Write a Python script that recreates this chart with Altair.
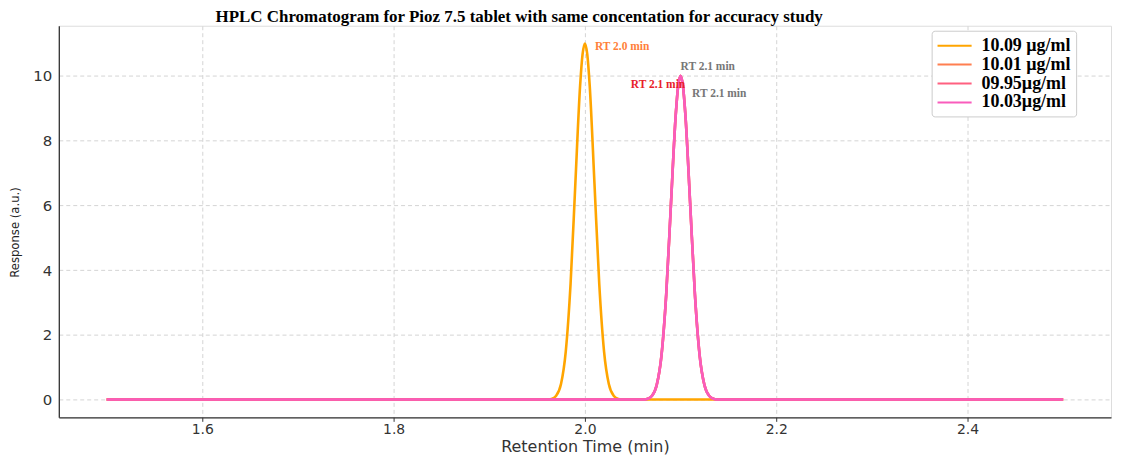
import altair as alt
import pandas as pd

# ---- data ----
series_labels = ["10.09 µg/ml", "10.01 µg/ml", "09.95µg/ml", "10.03µg/ml"]
series_colors = ["#ffa500", "#ff7f50", "#ff6080", "#f95cbc"]

peak1_time = [1.50, 1.955, 1.960, 1.965, 1.970, 1.975, 1.980, 1.985, 1.990, 1.995, 1.9975,
              2.000, 2.0025, 2.005, 2.010, 2.015, 2.020, 2.025, 2.030, 2.035, 2.040, 2.045, 2.50]
peak1_resp = [0.0, 0.0, 0.0, 0.02, 0.12, 0.48, 1.49, 3.57, 6.67, 9.71, 10.66,
              11.0, 10.66, 9.71, 6.67, 3.57, 1.49, 0.48, 0.12, 0.02, 0.0, 0.0, 0.0]

peak2_time = [1.50, 2.055, 2.060, 2.065, 2.070, 2.075, 2.080, 2.085, 2.090, 2.095, 2.0975,
              2.100, 2.1025, 2.105, 2.110, 2.115, 2.120, 2.125, 2.130, 2.135, 2.140, 2.145, 2.50]
peak2_resp = [0.0, 0.0, 0.0, 0.02, 0.11, 0.44, 1.35, 3.25, 6.07, 8.82, 9.69,
              10.0, 9.69, 8.82, 6.07, 3.25, 1.35, 0.44, 0.11, 0.02, 0.0, 0.0, 0.0]

ann_time = [2.0105, 2.1000, 2.0480, 2.1120]
ann_resp = [10.89, 10.28, 9.72, 9.45]
ann_text = ["RT 2.0 min", "RT 2.1 min", "RT 2.1 min", "RT 2.1 min"]
ann_color = ["#ff7f3a", "#777777", "#e8202a", "#777777"]

title_text = "HPLC Chromatogram for Pioz 7.5 tablet with same concentation for accuracy study"

# ---- build frames ----
rows = []
series_data = [
    (series_labels[0], peak1_time, peak1_resp),
    (series_labels[1], peak2_time, peak2_resp),
    (series_labels[2], peak2_time, peak2_resp),
    (series_labels[3], peak2_time, peak2_resp),
]
for name, t, r in series_data:
    for a, b in zip(t, r):
        rows.append({"series": name, "time": a, "resp": b})
df = pd.DataFrame(rows)
ann_df = pd.DataFrame({"time": ann_time, "resp": ann_resp, "text": ann_text, "color": ann_color})

xscale = alt.Scale(domain=[1.45, 2.55], nice=False, zero=False)
yscale = alt.Scale(domain=[-0.55, 11.55], nice=False, zero=False)
cscale = alt.Scale(domain=series_labels, range=series_colors)

xaxis = alt.Axis(values=[1.6, 1.8, 2.0, 2.2, 2.4], format=".1f", title="Retention Time (min)",
                 labelFont="DejaVu Sans", labelFontSize=14, labelColor="#333333",
                 titleFont="DejaVu Sans", titleFontSize=16, titleFontWeight="normal",
                 titleColor="#333333", titlePadding=2, tickSize=4, tickColor="#333333",
                 labelPadding=1, grid=True, gridDash=[4, 3], gridColor="#d4d4d4",
                 domainColor="#333333", domainWidth=1.3)
yaxis = alt.Axis(values=[0, 2, 4, 6, 8, 10], title="Response (a.u.)",
                 labelFont="DejaVu Sans", labelFontSize=15, labelColor="#333333",
                 titleFont="DejaVu Sans Condensed, Liberation Sans Narrow, DejaVu Sans",
                 titleFontSize=13, titleFontWeight="normal", titleColor="#222222",
                 titleX=-44, titleY=207, titleAngle=270, titleAlign="center",
                 titleBaseline="middle", tickSize=0, labelPadding=7,
                 grid=True, gridDash=[4, 3], gridColor="#d4d4d4",
                 domainColor="#333333", domainWidth=1.3)

layers = []
for i, name in enumerate(series_labels):
    layers.append(
        alt.Chart(df).transform_filter(alt.datum.series == name)
        .mark_line(strokeWidth=2.6, interpolate="monotone")
        .encode(
            x=alt.X("time:Q", scale=xscale, axis=xaxis),
            y=alt.Y("resp:Q", scale=yscale, axis=yaxis),
            color=alt.Color("series:N", scale=cscale,
                            legend=alt.Legend(title=None, orient="none", legendX=876, legendY=5,
                                              labelFont="Liberation Serif", labelFontWeight="bold",
                                              labelFontSize=18, labelColor="black",
                                              symbolType="M-1.9,0L1.9,0", symbolSize=324,
                                              symbolStrokeWidth=2, rowPadding=0,
                                              symbolOffset=8, labelOffset=17,
                                              strokeColor="#cccccc", fillColor="white",
                                              padding=5, cornerRadius=3)),
        )
    )

ann = alt.Chart(ann_df).mark_text(align="left", baseline="middle", font="Liberation Serif",
                                  fontWeight="bold", fontSize=11.5).encode(
    x=alt.X("time:Q", scale=xscale),
    y=alt.Y("resp:Q", scale=yscale),
    text="text:N",
    color=alt.Color("color:N", scale=None),
)

chart = alt.layer(*layers, ann).properties(
    width=1056, height=393,
    title=alt.TitleParams(title_text, font="Liberation Serif", fontSize=17, fontWeight="bold",
                          color="black", anchor="middle", dx=-66, offset=0),
    autosize=alt.AutoSizeParams(type="none"),
    padding={"left": 51, "top": 17, "right": 2, "bottom": 40},
).configure_view(stroke=None).configure(background="white")

chart.save("out.html", embed_options={"renderer": "svg", "actions": False})
